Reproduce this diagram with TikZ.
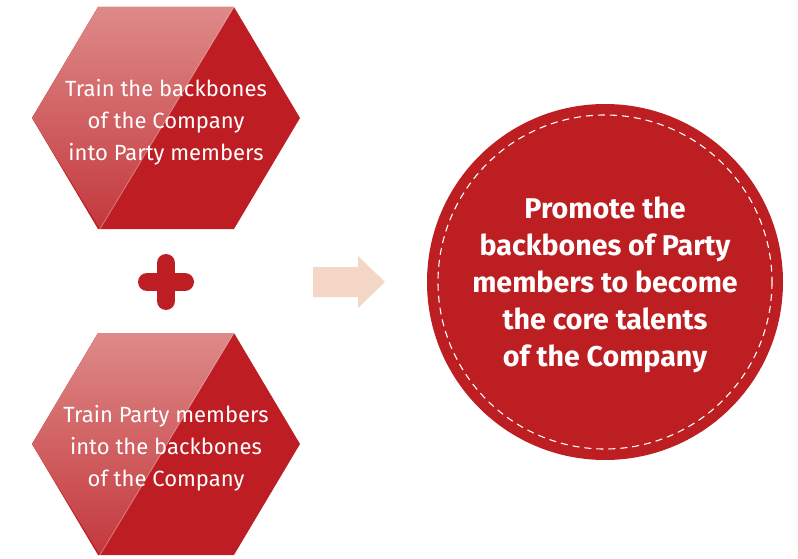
\documentclass[tikz,border=0pt]{standalone}
\usepackage{fontspec}
\setmainfont{Fira Sans}
\usetikzlibrary{calc}

\definecolor{hexred}{HTML}{BE1E23}
\definecolor{hextop}{HTML}{DE8A89}
\definecolor{hexbottom}{HTML}{C3383C}
\definecolor{circred}{HTML}{BC1E22}
\definecolor{arrowpeach}{HTML}{F4D6C6}

\tikzset{
	hexdark/.style={fill=hexred},
	hexlight/.style={top color=hextop,bottom color=hexbottom},
	gloss/.style={draw=white,opacity=0.35,line width=0.8pt},
	hextext/.style={text=white,align=center,font=\fontsize{22}{32}\selectfont},
	plusmark/.style={draw=hexred,line width=18pt,line cap=round},
	arrowfill/.style={fill=arrowpeach},
	goaltext/.style={text=white,align=center,font=\fontsize{28.6}{37}\selectfont\bfseries}
}

\begin{document}
\begin{tikzpicture}[x=1pt,y=-1pt]

	\useasboundingbox (0,0) rectangle (798,559);

	% the two hexagons
	\foreach \name/\ypos/\txt in {%
		train/118/{Train the backbones\\of the Company\\into Party members},%
		party/444/{Train Party members\\into the backbones\\of the Company}} {
		\coordinate (\name) at (166,\ypos);
		\fill[hexdark] (\name) ++(-134,0) -- ++(66,-111) -- ++(136,0) -- ++(66,111)
			-- ++(-66,111) -- ++(-136,0) -- cycle;
		\shade[hexlight] (\name) ++(-134,0) -- ++(66,-111) -- ++(136,0) -- ++(-134,222) -- cycle;
		\draw[gloss] (\name) ++(68,-111) -- ++(-134,222);
		\node[hextext] (\name-txt) at ($(\name)+(0,4)$) {\txt};
	}

	% plus sign
	\coordinate (plus) at (166,282);
	\draw[plusmark] (plus) ++(0,-19) -- ++(0,38);
	\draw[plusmark] (plus) ++(-19,0) -- ++(38,0);

	% arrow
	\coordinate (arrowtail) at (313,282);
	\fill[arrowfill] (arrowtail) ++(0,-15) -- ++(45,0) -- ++(0,-11) -- ++(27,26)
		-- ++(-27,26) -- ++(0,-11) -- ++(-45,0) -- cycle;

	% goal circle
	\node[circle,fill=circred,minimum size=356pt,inner sep=0pt] (goal) at (605,282) {};
	\draw[white,line width=1.1pt,dash pattern=on 7pt off 5pt] (goal.center) circle (167);
	\node[goaltext] (goal-txt) at ($(goal.center)+(0,3)$) {Promote the\\backbones of Party\\members to become\\the core talents\\of the Company};

\end{tikzpicture}
\end{document}
